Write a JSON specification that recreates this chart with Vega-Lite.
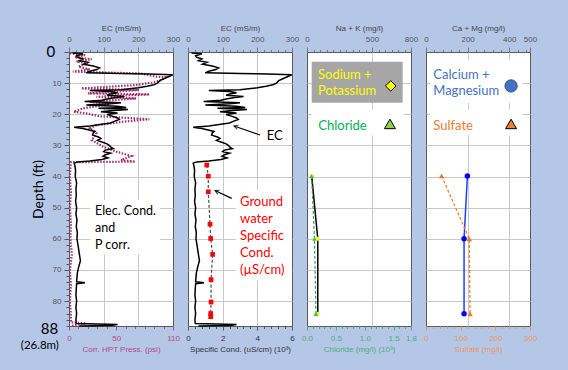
{
  "$schema": "https://vega.github.io/schema/vega-lite/v6.json",
  "background": "#b4c7e7",
  "padding": {"left": 20, "top": 23, "right": 40, "bottom": 20},
  "spacing": 15,
  "bounds": "flush",
  "config": {
    "view": {"stroke": "#5a5a5a", "strokeWidth": 1, "fill": "white"},
    "axis": {"labelFont": "Liberation Sans", "titleFont": "Liberation Sans", "labelFontSize": 8, "titleFontSize": 8, "titleFontWeight": "normal", "labelColor": "#555555", "titleColor": "#444444", "tickColor": "#777777", "labelFlush": false, "labelOverlap": false, "domain": false, "gridColor": "#c8c8c8", "labelPadding": 4, "titlePadding": 3, "tickCount": 100}
  },
  "datasets": {
    "ec": [
      {"depth":0.3,"ec":10},{"depth":0.6,"ec":40},{"depth":1.2,"ec":22},{"depth":1.7,"ec":25},{"depth":2.2,"ec":40},{"depth":2.8,"ec":30},{"depth":3.3,"ec":55},{"depth":3.9,"ec":42},{"depth":4.5,"ec":70},{"depth":5.1,"ec":88},{"depth":5.6,"ec":80},{"depth":6.2,"ec":60},{"depth":6.7,"ec":50},{"depth":6.9,"ec":150},{"depth":7.1,"ec":230},{"depth":7.3,"ec":299},{"depth":7.8,"ec":290},{"depth":8.5,"ec":275},{"depth":9.2,"ec":262},{"depth":10.0,"ec":255},{"depth":10.5,"ec":245},{"depth":11.0,"ec":225},{"depth":11.5,"ec":200},{"depth":11.8,"ec":175},{"depth":12.1,"ec":150},{"depth":12.4,"ec":60},{"depth":12.7,"ec":120},{"depth":13.1,"ec":140},{"depth":13.5,"ec":120},{"depth":13.9,"ec":110},{"depth":14.3,"ec":160},{"depth":14.7,"ec":130},{"depth":15.1,"ec":110},{"depth":15.5,"ec":95},{"depth":15.9,"ec":45},{"depth":16.3,"ec":150},{"depth":16.6,"ec":120},{"depth":17.0,"ec":50},{"depth":17.4,"ec":140},{"depth":17.8,"ec":165},{"depth":18.1,"ec":85},{"depth":18.5,"ec":170},{"depth":18.9,"ec":120},{"depth":19.2,"ec":92},{"depth":19.6,"ec":140},{"depth":20.1,"ec":110},{"depth":20.6,"ec":125},{"depth":21.2,"ec":140},{"depth":21.7,"ec":145},{"depth":22.2,"ec":132},{"depth":22.8,"ec":120},{"depth":23.3,"ec":90},{"depth":23.8,"ec":60},{"depth":24.2,"ec":15},{"depth":24.6,"ec":40},{"depth":25.0,"ec":55},{"depth":25.5,"ec":75},{"depth":26.0,"ec":70},{"depth":26.7,"ec":68},{"depth":27.3,"ec":85},{"depth":27.8,"ec":92},{"depth":28.4,"ec":82},{"depth":28.9,"ec":95},{"depth":29.5,"ec":110},{"depth":30.0,"ec":116},{"depth":30.6,"ec":122},{"depth":31.0,"ec":128},{"depth":31.5,"ec":105},{"depth":32.0,"ec":100},{"depth":32.5,"ec":120},{"depth":33.0,"ec":105},{"depth":33.5,"ec":98},{"depth":34.0,"ec":112},{"depth":34.5,"ec":95},{"depth":35.0,"ec":60},{"depth":35.3,"ec":25},{"depth":35.7,"ec":15},
      {"depth":36.5,"ec":17},{"depth":38,"ec":19},{"depth":40,"ec":18},{"depth":42,"ec":22},{"depth":44,"ec":20},{"depth":46,"ec":21},{"depth":48,"ec":19},{"depth":50,"ec":22},{"depth":52,"ec":20},{"depth":54,"ec":23},{"depth":56,"ec":21},{"depth":58,"ec":24},{"depth":60,"ec":23},{"depth":62,"ec":26},{"depth":65,"ec":30},{"depth":67,"ec":33},{"depth":69,"ec":28},{"depth":71,"ec":24},{"depth":73.8,"ec":22},{"depth":74.1,"ec":46},{"depth":74.4,"ec":22},{"depth":76,"ec":21},{"depth":78,"ec":20},{"depth":80,"ec":22},{"depth":82,"ec":20},{"depth":84,"ec":22},{"depth":86,"ec":20},{"depth":87.2,"ec":21},{"depth":87.5,"ec":140},{"depth":87.8,"ec":120},{"depth":88,"ec":30}
    ],
    "hpt": [
      {"depth":0.4,"p":1},{"depth":1.0,"p":17},{"depth":1.7,"p":6},{"depth":2.3,"p":24},{"depth":3.1,"p":8},{"depth":3.6,"p":20},{"depth":4.7,"p":10},{"depth":5.6,"p":22},{"depth":6.3,"p":4},{"depth":6.9,"p":76},{"depth":7.9,"p":92},{"depth":8.1,"p":102},{"depth":9.0,"p":98},{"depth":9.8,"p":88},{"depth":10.6,"p":71},{"depth":11.2,"p":40},{"depth":11.7,"p":13},{"depth":12.2,"p":74},{"depth":13.3,"p":20},{"depth":13.6,"p":85},{"depth":14.4,"p":29},{"depth":14.9,"p":71},{"depth":16.0,"p":22},{"depth":16.7,"p":43},{"depth":18.1,"p":15},{"depth":19.2,"p":5},{"depth":19.7,"p":18},{"depth":20.6,"p":32},{"depth":21.0,"p":52},{"depth":21.6,"p":85},{"depth":22.4,"p":57},{"depth":23.5,"p":29},{"depth":24.5,"p":22},{"depth":26.1,"p":29},{"depth":28.3,"p":24},{"depth":30.4,"p":36},{"depth":32.0,"p":50},{"depth":33.4,"p":66},{"depth":34.7,"p":55},{"depth":35.2,"p":70},{"depth":35.4,"p":2},{"depth":37,"p":1.5},{"depth":40,"p":1},{"depth":45,"p":2},{"depth":50,"p":1},{"depth":55,"p":2},{"depth":60,"p":1.5},{"depth":65,"p":3},{"depth":70,"p":1},{"depth":75,"p":2},{"depth":80,"p":1},{"depth":85,"p":2},{"depth":86.8,"p":2},{"depth":87.2,"p":18},{"depth":87.6,"p":8},{"depth":88,"p":3}
    ],
    "sc": [
      {"depth":36.3,"sc":1.08},{"depth":39.9,"sc":1.17},{"depth":44.9,"sc":1.17},{"depth":55.3,"sc":1.27},{"depth":59.9,"sc":1.31},{"depth":65.0,"sc":1.42},{"depth":73.1,"sc":1.33},{"depth":80.3,"sc":1.33},{"depth":84.0,"sc":1.31},{"depth":85.0,"sc":1.31}
    ],
    "chem": [
      {"depth":39.8,"nak":36,"cl":0.08,"camg":199,"so4":45},
      {"depth":60.0,"nak":83,"cl":0.13,"camg":183,"so4":125},
      {"depth":84.1,"nak":83,"cl":0.155,"camg":183,"so4":127}
    ]
  },
  "hconcat": [
    {
      "width": 104, "height": 274,
      "resolve": {"scale": {"x": "independent"}},
      "layer": [
        {
          "data": {"name": "hpt"},
          "mark": {"type": "line", "color": "#a0306c", "strokeWidth": 2.2, "strokeDash": [1.5, 1.5]},
          "encoding": {
            "x": {"field": "p", "type": "quantitative", "scale": {"domain": [0, 110], "nice": false, "zero": false},
              "axis": {"orient": "bottom", "values": [0,10,20,30,40,50,60,70,80,90,100,110], "tickCount": 100,
                "labelExpr": "datum.value === 0 || datum.value === 50 || datum.value === 110 ? format(datum.value, 'd') : ''",
                "tickSize": {"condition": {"test": "datum.value === 0 || datum.value === 50 || datum.value === 110", "value": 4}, "value": 2.5},
                "grid": false, "title": "Corr. HPT Press. (psi)", "labelColor": "#b8468a", "titleColor": "#b8468a", "tickColor": "#b8468a"}},
            "y": {"field": "depth", "type": "quantitative", "scale": {"domain": [0, 88], "reverse": true, "nice": false, "zero": false},
              "axis": {"values": [0,2,4,6,8,10,12,14,16,18,20,22,24,26,28,30,32,34,36,38,40,42,44,46,48,50,52,54,56,58,60,62,64,66,68,70,72,74,76,78,80,82,84,86,88], "tickCount": 100,
                "labelExpr": "datum.value % 10 === 0 && datum.value > 0 && datum.value < 88 ? format(datum.value, 'd') : ''",
                "tickSize": {"condition": {"test": "datum.value % 10 === 0", "value": 5}, "value": 3},
                "tickColor": "#555555", "labelPadding": 3,
                "grid": true,
                "gridOpacity": {"condition": {"test": "datum.value % 10 === 0 && datum.value > 0 && datum.value < 88", "value": 1}, "value": 0},
                "title": "Depth (ft)", "titleFont": "Lato", "titleFontSize": 14, "titleColor": "#000000", "titlePadding": 7}},
            "order": {"field": "depth", "type": "quantitative"}
          }
        },
        {
          "layer": [
            {
              "data": {"name": "ec"},
              "mark": {"type": "line", "color": "black", "strokeWidth": 1.5},
              "encoding": {
                "x": {"field": "ec", "type": "quantitative", "scale": {"domain": [0, 300], "nice": false, "zero": false},
                  "axis": {"orient": "top", "values": [0,20,40,60,80,100,120,140,160,180,200,220,240,260,280,300], "tickCount": 100,
                    "labelExpr": "datum.value % 100 === 0 ? format(datum.value, 'd') : ''",
                    "tickSize": {"condition": {"test": "datum.value % 100 === 0", "value": 5}, "value": 2.5},
                    "grid": true,
                    "gridOpacity": {"condition": {"test": "datum.value === 100 || datum.value === 200", "value": 1}, "value": 0},
                    "title": "EC (mS/m)"}},
                "y": {"field": "depth", "type": "quantitative", "scale": {"domain": [0, 88], "reverse": true, "nice": false, "zero": false}},
                "order": {"field": "depth", "type": "quantitative"}
              }
            },
            {
              "data": {"values": [{}]},
              "mark": {"type": "rect", "fill": "white"},
              "encoding": {"x": {"datum": 61, "type": "quantitative"}, "x2": {"datum": 262}, "y": {"datum": 47.5, "type": "quantitative"}, "y2": {"datum": 65}}
            },
            {
              "data": {"values": [{}]},
              "mark": {"type": "text", "text": ["Elec. Cond.", "and", "P corr."], "align": "left", "baseline": "middle", "lineHeight": 17, "font": "Lato", "fontSize": 12.5, "color": "black"},
              "encoding": {"x": {"datum": 75, "type": "quantitative"}, "y": {"datum": 51.0, "type": "quantitative"}}
            },
            {
              "data": {"values": [{}]},
              "mark": {"type": "text", "text": "0", "align": "right", "baseline": "middle", "font": "Lato", "fontSize": 15, "color": "black"},
              "encoding": {"x": {"datum": -40, "type": "quantitative"}, "y": {"datum": 0, "type": "quantitative"}}
            },
            {
              "data": {"values": [{}]},
              "mark": {"type": "text", "text": "88", "align": "right", "baseline": "middle", "font": "Lato", "fontSize": 15, "color": "black"},
              "encoding": {"x": {"datum": -31, "type": "quantitative"}, "y": {"datum": 89, "type": "quantitative"}}
            },
            {
              "data": {"values": [{}]},
              "mark": {"type": "text", "text": "(26.8m)", "align": "center", "baseline": "middle", "font": "Lato", "fontSize": 11.5, "color": "black"},
              "encoding": {"x": {"datum": -84, "type": "quantitative"}, "y": {"datum": 94.4, "type": "quantitative"}}
            }
          ]
        }
      ]
    },
    {
      "width": 104, "height": 274,
      "resolve": {"scale": {"x": "independent"}},
      "layer": [
        {
          "layer": [
            {
              "data": {"name": "ec"},
              "mark": {"type": "line", "color": "black", "strokeWidth": 1.5},
              "encoding": {
                "x": {"field": "ec", "type": "quantitative", "scale": {"domain": [0, 300], "nice": false, "zero": false},
                  "axis": {"orient": "top", "values": [0,20,40,60,80,100,120,140,160,180,200,220,240,260,280,300], "tickCount": 100,
                    "labelExpr": "datum.value % 100 === 0 ? format(datum.value, 'd') : ''",
                    "tickSize": {"condition": {"test": "datum.value % 100 === 0", "value": 5}, "value": 2.5},
                    "grid": true,
                    "gridOpacity": {"condition": {"test": "datum.value === 100 || datum.value === 200", "value": 1}, "value": 0},
                    "title": "EC (mS/m)"}},
                "y": {"field": "depth", "type": "quantitative", "scale": {"domain": [0, 88], "reverse": true, "nice": false, "zero": false},
                  "axis": {"values": [10,20,30,40,50,60,70,80], "tickCount": 100, "labels": false, "ticks": false, "grid": true, "title": null}},
                "order": {"field": "depth", "type": "quantitative"}
              }
            },
            {
              "data": {"values": [{}]},
              "mark": {"type": "rect", "fill": "white"},
              "encoding": {"x": {"datum": 138, "type": "quantitative"}, "x2": {"datum": 300}, "y": {"datum": 44.4, "type": "quantitative"}, "y2": {"datum": 73.3}}
            },
            {
              "data": {"values": [{}]},
              "mark": {"type": "text", "text": ["Ground", "water", "Specific", "Cond.", "(µS/cm)"], "align": "left", "baseline": "middle", "lineHeight": 17.1, "font": "Lato", "fontSize": 13, "color": "#ff0000"},
              "encoding": {"x": {"datum": 150, "type": "quantitative"}, "y": {"datum": 48.1, "type": "quantitative"}}
            },
            {
              "data": {"values": [{}]},
              "mark": {"type": "text", "text": "EC", "align": "left", "baseline": "middle", "font": "Lato", "fontSize": 13, "color": "black"},
              "encoding": {"x": {"datum": 227, "type": "quantitative"}, "y": {"datum": 27, "type": "quantitative"}}
            },
            {
              "data": {"values": [{}]},
              "mark": {"type": "rule", "color": "black", "strokeWidth": 1.2},
              "encoding": {"x": {"datum": 207.7, "type": "quantitative"}, "x2": {"datum": 132.7}, "y": {"datum": 26.65, "type": "quantitative"}, "y2": {"datum": 23.76}}
            },
            {
              "data": {"values": [{}]},
              "mark": {"type": "point", "shape": "M-0.7,1.3L0,0L0.7,1.3", "filled": false, "stroke": "black", "strokeWidth": 1.2, "size": 40, "angle": 289},
              "encoding": {"x": {"datum": 132.7, "type": "quantitative"}, "y": {"datum": 23.76, "type": "quantitative"}}
            },
            {
              "data": {"values": [{}]},
              "mark": {"type": "rule", "color": "black", "strokeWidth": 1.2},
              "encoding": {"x": {"datum": 126, "type": "quantitative"}, "x2": {"datum": 77.9}, "y": {"datum": 47.0, "type": "quantitative"}, "y2": {"datum": 44.5}}
            },
            {
              "data": {"values": [{}]},
              "mark": {"type": "point", "shape": "M-0.7,1.3L0,0L0.7,1.3", "filled": false, "stroke": "black", "strokeWidth": 1.2, "size": 40, "angle": 294.5},
              "encoding": {"x": {"datum": 77.9, "type": "quantitative"}, "y": {"datum": 44.5, "type": "quantitative"}}
            }
          ]
        },
        {
          "data": {"name": "sc"},
          "layer": [
            {
              "mark": {"type": "line", "color": "#4d4d4d", "strokeWidth": 1.2, "strokeDash": [3, 2]},
              "encoding": {
                "x": {"field": "sc", "type": "quantitative", "scale": {"domain": [0, 6], "nice": false, "zero": false},
                  "axis": {"orient": "bottom", "values": [0,0.4,0.8,1.2,1.6,2,2.4,2.8,3.2,3.6,4,4.4,4.8,5.2,5.6,6], "tickCount": 100,
                    "labelExpr": "indexof([0,2,4,6], datum.value) >= 0 ? format(datum.value, 'd') : ''",
                    "tickSize": {"condition": {"test": "indexof([0,2,4,6], datum.value) >= 0", "value": 4}, "value": 2.5},
                    "grid": false, "title": "Specific Cond. (uS/cm) (10³)", "labelColor": "#333333", "titleColor": "#333333", "tickColor": "#555555"}},
                "y": {"field": "depth", "type": "quantitative", "scale": {"domain": [0, 88], "reverse": true, "nice": false, "zero": false}},
                "order": {"field": "depth", "type": "quantitative"}
              }
            },
            {
              "mark": {"type": "point", "shape": "square", "filled": true, "color": "#ff0000", "size": 22, "opacity": 1},
              "encoding": {
                "x": {"field": "sc", "type": "quantitative"},
                "y": {"field": "depth", "type": "quantitative"}
              }
            }
          ]
        }
      ]
    },
    {
      "width": 104, "height": 274,
      "resolve": {"scale": {"x": "independent"}},
      "layer": [
        {
          "layer": [
            {
              "data": {"values": [{}]},
              "mark": {"type": "rect", "fill": "#a6a6a6"},
              "encoding": {
                "x": {"datum": 36, "type": "quantitative", "scale": {"domain": [0, 800], "nice": false, "zero": false},
                  "axis": {"orient": "top", "values": [0,50,100,150,200,250,300,350,400,450,500,550,600,650,700,750,800], "tickCount": 100,
                    "labelExpr": "indexof([0,500,800], datum.value) >= 0 ? format(datum.value, 'd') : ''",
                    "tickSize": {"condition": {"test": "indexof([0,500,800], datum.value) >= 0", "value": 5}, "value": 2.5},
                    "grid": true,
                    "gridOpacity": {"condition": {"test": "datum.value === 500", "value": 1}, "value": 0},
                    "title": "Na + K (mg/l)"}},
                "x2": {"datum": 736},
                "y": {"datum": 3.1, "type": "quantitative", "scale": {"domain": [0, 88], "reverse": true, "nice": false, "zero": false},
                  "axis": {"values": [10,20,30,40,50,60,70,80], "tickCount": 100, "labels": false, "ticks": false, "grid": true, "title": null}},
                "y2": {"datum": 16.3}
              }
            },
            {
              "data": {"values": [{}]},
              "mark": {"type": "rect", "fill": "white"},
              "encoding": {"x": {"datum": 36, "type": "quantitative"}, "x2": {"datum": 741}, "y": {"datum": 18.5, "type": "quantitative"}, "y2": {"datum": 26.7}}
            },
            {
              "data": {"name": "chem"},
              "mark": {"type": "line", "color": "black", "strokeWidth": 1.5},
              "encoding": {
                "x": {"field": "nak", "type": "quantitative"},
                "y": {"field": "depth", "type": "quantitative"},
                "order": {"field": "depth", "type": "quantitative"}
              }
            },
            {
              "data": {"name": "chem"},
              "mark": {"type": "point", "shape": "diamond", "filled": true, "color": "#ffff00", "size": 22, "opacity": 1},
              "encoding": {"x": {"field": "nak", "type": "quantitative"}, "y": {"field": "depth", "type": "quantitative"}}
            },
            {
              "data": {"values": [{}]},
              "mark": {"type": "text", "text": ["Sodium +", "Potassium"], "align": "left", "baseline": "middle", "lineHeight": 15.7, "font": "Lato", "fontSize": 13, "color": "#ffff00"},
              "encoding": {"x": {"datum": 85, "type": "quantitative"}, "y": {"datum": 7.4, "type": "quantitative"}}
            },
            {
              "data": {"values": [{}]},
              "mark": {"type": "point", "shape": "diamond", "filled": true, "fill": "#ffff00", "stroke": "black", "strokeWidth": 1, "size": 110, "opacity": 1},
              "encoding": {"x": {"datum": 644, "type": "quantitative"}, "y": {"datum": 10.9, "type": "quantitative"}}
            },
            {
              "data": {"values": [{}]},
              "mark": {"type": "text", "text": "Chloride", "align": "left", "baseline": "middle", "font": "Lato", "fontSize": 13, "color": "#00b050"},
              "encoding": {"x": {"datum": 87, "type": "quantitative"}, "y": {"datum": 23.7, "type": "quantitative"}}
            },
            {
              "data": {"values": [{}]},
              "mark": {"type": "point", "shape": "triangle-up", "filled": true, "fill": "#92d050", "stroke": "black", "strokeWidth": 1, "size": 120, "opacity": 1},
              "encoding": {"x": {"datum": 638, "type": "quantitative"}, "y": {"datum": 23.1, "type": "quantitative"}}
            }
          ]
        },
        {
          "data": {"name": "chem"},
          "layer": [
            {
              "mark": {"type": "line", "color": "#3c9a5a", "strokeWidth": 1.2, "strokeDash": [3, 2]},
              "encoding": {
                "x": {"field": "cl", "type": "quantitative", "scale": {"domain": [0, 1.8], "nice": false, "zero": false},
                  "axis": {"orient": "bottom", "values": [0,0.1,0.2,0.3,0.4,0.5,0.6,0.7,0.8,0.9,1,1.1,1.2,1.3,1.4,1.5,1.6,1.7,1.8], "tickCount": 100,
                    "labelExpr": "indexof([0,0.5,1,1.5,1.8], datum.value) >= 0 ? format(datum.value, '.1f') : ''",
                    "tickSize": {"condition": {"test": "indexof([0,0.5,1,1.5,1.8], datum.value) >= 0", "value": 4}, "value": 2.5},
                    "grid": false, "title": "Chloride (mg/l) (10³)", "labelColor": "#4caf7d", "titleColor": "#4caf7d", "tickColor": "#4caf7d"}},
                "y": {"field": "depth", "type": "quantitative", "scale": {"domain": [0, 88], "reverse": true, "nice": false, "zero": false}},
                "order": {"field": "depth", "type": "quantitative"}
              }
            },
            {
              "mark": {"type": "point", "shape": "triangle-up", "filled": true, "color": "#33cc33", "size": 22, "opacity": 1},
              "encoding": {"x": {"field": "cl", "type": "quantitative"}, "y": {"field": "depth", "type": "quantitative"}}
            }
          ]
        }
      ]
    },
    {
      "width": 104, "height": 274,
      "resolve": {"scale": {"x": "independent"}},
      "layer": [
        {
          "layer": [
            {
              "data": {"values": [{}]},
              "mark": {"type": "rect", "fill": "white"},
              "encoding": {
                "x": {"datum": 19, "type": "quantitative", "scale": {"domain": [0, 500], "nice": false, "zero": false},
                  "axis": {"orient": "top", "values": [0,40,80,120,160,200,240,280,320,360,400,440,480,500], "tickCount": 100,
                    "labelExpr": "indexof([0,200,400,500], datum.value) >= 0 ? format(datum.value, 'd') : ''",
                    "tickSize": {"condition": {"test": "indexof([0,200,400,500], datum.value) >= 0", "value": 5}, "value": 2.5},
                    "grid": true,
                    "gridOpacity": {"condition": {"test": "datum.value === 200 || datum.value === 400", "value": 1}, "value": 0},
                    "title": "Ca + Mg (mg/l)"}},
                "x2": {"datum": 462},
                "y": {"datum": 2.6, "type": "quantitative", "scale": {"domain": [0, 88], "reverse": true, "nice": false, "zero": false},
                  "axis": {"values": [10,20,30,40,50,60,70,80], "tickCount": 100, "labels": false, "ticks": false, "grid": true, "title": null}},
                "y2": {"datum": 16.4}
              }
            },
            {
              "data": {"values": [{}]},
              "mark": {"type": "rect", "fill": "white"},
              "encoding": {"x": {"datum": 19, "type": "quantitative"}, "x2": {"datum": 462}, "y": {"datum": 18.5, "type": "quantitative"}, "y2": {"datum": 26.7}}
            },
            {
              "data": {"name": "chem"},
              "mark": {"type": "line", "color": "#1f3fff", "strokeWidth": 1.5},
              "encoding": {
                "x": {"field": "camg", "type": "quantitative"},
                "y": {"field": "depth", "type": "quantitative"},
                "order": {"field": "depth", "type": "quantitative"}
              }
            },
            {
              "data": {"name": "chem"},
              "mark": {"type": "point", "shape": "circle", "filled": true, "color": "#0000ff", "size": 30, "opacity": 1},
              "encoding": {"x": {"field": "camg", "type": "quantitative"}, "y": {"field": "depth", "type": "quantitative"}}
            },
            {
              "data": {"values": [{}]},
              "mark": {"type": "text", "text": ["Calcium +", "Magnesium"], "align": "left", "baseline": "middle", "lineHeight": 15.7, "font": "Lato", "fontSize": 13, "color": "#4472c4"},
              "encoding": {"x": {"datum": 35, "type": "quantitative"}, "y": {"datum": 7.4, "type": "quantitative"}}
            },
            {
              "data": {"values": [{}]},
              "mark": {"type": "point", "shape": "circle", "filled": true, "fill": "#4472c4", "stroke": "#2f528f", "strokeWidth": 1, "size": 150, "opacity": 1},
              "encoding": {"x": {"datum": 409, "type": "quantitative"}, "y": {"datum": 10.9, "type": "quantitative"}}
            },
            {
              "data": {"values": [{}]},
              "mark": {"type": "text", "text": "Sulfate", "align": "left", "baseline": "middle", "font": "Lato", "fontSize": 13, "color": "#ed7d31"},
              "encoding": {"x": {"datum": 35, "type": "quantitative"}, "y": {"datum": 23.7, "type": "quantitative"}}
            },
            {
              "data": {"values": [{}]},
              "mark": {"type": "point", "shape": "triangle-up", "filled": true, "fill": "#ed7d31", "stroke": "black", "strokeWidth": 1, "size": 120, "opacity": 1},
              "encoding": {"x": {"datum": 409, "type": "quantitative"}, "y": {"datum": 23.1, "type": "quantitative"}}
            }
          ]
        },
        {
          "data": {"name": "chem"},
          "layer": [
            {
              "mark": {"type": "line", "color": "#f47a20", "strokeWidth": 1.2, "strokeDash": [3, 2]},
              "encoding": {
                "x": {"field": "so4", "type": "quantitative", "scale": {"domain": [0, 300], "nice": false, "zero": false},
                  "axis": {"orient": "bottom", "values": [0,20,40,60,80,100,120,140,160,180,200,220,240,260,280,300], "tickCount": 100,
                    "labelExpr": "datum.value % 100 === 0 ? format(datum.value, 'd') : ''",
                    "tickSize": {"condition": {"test": "datum.value % 100 === 0", "value": 4}, "value": 2.5},
                    "grid": false, "title": "Sulfate (mg/l)", "labelColor": "#f0955a", "titleColor": "#f0955a", "tickColor": "#f0955a"}},
                "y": {"field": "depth", "type": "quantitative", "scale": {"domain": [0, 88], "reverse": true, "nice": false, "zero": false}},
                "order": {"field": "depth", "type": "quantitative"}
              }
            },
            {
              "mark": {"type": "point", "shape": "triangle-up", "filled": true, "color": "#f47a20", "size": 30, "opacity": 1},
              "encoding": {"x": {"field": "so4", "type": "quantitative"}, "y": {"field": "depth", "type": "quantitative"}}
            }
          ]
        }
      ]
    }
  ]
}
